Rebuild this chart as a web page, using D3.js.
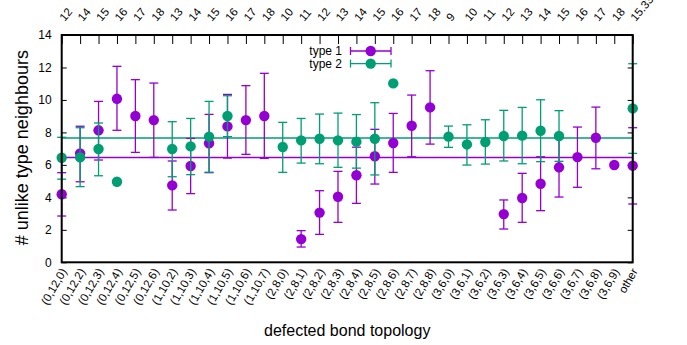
<!DOCTYPE html>
<html>
<head>
<meta charset="utf-8">
<script src="https://cdn.jsdelivr.net/npm/d3@7"></script>
<style>
  html, body { margin: 0; padding: 0; background: #fff; }
  svg { display: block; font-family: "Liberation Sans", Arial, Helvetica, sans-serif; }
</style>
</head>
<body>
<svg id="chart" width="687" height="345"></svg>
<script>
// Bond-topology categories (bottom axis) and their coordination sums (top axis)
const categories = ["(0,12,0)","(0,12,2)","(0,12,3)","(0,12,4)","(0,12,5)","(0,12,6)",
  "(1,10,2)","(1,10,3)","(1,10,4)","(1,10,5)","(1,10,6)","(1,10,7)",
  "(2,8,0)","(2,8,1)","(2,8,2)","(2,8,3)","(2,8,4)","(2,8,5)","(2,8,6)","(2,8,7)","(2,8,8)",
  "(3,6,0)","(3,6,1)","(3,6,2)","(3,6,3)","(3,6,4)","(3,6,5)","(3,6,6)","(3,6,7)","(3,6,8)","(3,6,9)","other"];
const topLabels = ["12","14","15","16","17","18","13","14","15","16","17","18",
  "10","11","12","13","14","15","16","17","18",
  "9","10","11","12","13","14","15","16","17","18","15.33"];
const yTicks = [0, 2, 4, 6, 8, 10, 12, 14];

// type 1: mean, lower and upper error bounds (null = no data / no bar)
const type1Mean = [4.19,6.71,8.13,10.07,9.01,8.76, 4.74,5.93,7.33,8.37,8.76,9.01,
  null,1.43,3.06,4.04,5.36,6.53,7.35,8.41,9.54, null,null,null,2.97,3.96,4.84,5.85,6.48,7.67,5.99,5.95];
const type1Low  = [2.85,4.96,6.30,8.13,6.77,6.46, 3.22,4.23,5.52,6.42,6.65,6.40,
  null,0.94,1.72,2.46,3.63,4.82,5.54,6.50,7.28, null,null,null,2.05,2.46,3.18,4.02,4.62,5.76,null,3.59];
const type1High = [5.52,8.38,9.91,12.07,11.25,11.04, 6.24,7.63,9.11,10.34,10.88,11.64,
  null,1.95,4.41,5.60,7.09,8.19,9.17,10.30,11.80, null,null,null,3.84,5.48,6.50,7.68,8.33,9.56,null,8.29];

// type 2: mean, lower and upper error bounds
const type2Mean = [6.44,6.46,6.98,4.96,null,null, 6.98,7.14,7.74,9.01,null,null,
  7.10,7.51,7.61,7.51,7.43,7.61,11.02,null,null, 7.74,7.26,7.41,7.78,7.80,8.10,7.78,null,null,null,9.48];
const type2Low  = [5.12,4.66,5.33,null,null,null, 5.27,5.40,5.55,7.74,null,null,
  5.54,6.11,6.07,5.85,5.80,5.38,null,null,null, 7.08,5.99,6.05,6.24,6.07,6.20,6.22,null,null,null,6.71];
const type2High = [7.70,8.29,8.58,null,null,null, 8.66,8.86,9.91,10.26,null,null,
  8.62,8.86,9.13,9.19,9.10,9.83,null,null,null, 8.39,8.47,8.78,9.36,9.54,10.01,9.34,null,null,null,12.23];

// overall averages drawn as horizontal reference lines
const type1Average = 6.46;
const type2Average = 7.65;

const seriesNames = ["type 1", "type 2"];
const colors = ["#9400d3", "#009e73"];

(function draw() {
  const svg = d3.select("#chart");
  const plotLeft = 61.7, plotRight = 632.7, plotTop = 35, plotBottom = 262.3;

  const x = d3.scalePoint().domain(categories).range([plotLeft, plotRight]);
  const y = d3.scaleLinear().domain([0, 14]).range([plotBottom, plotTop]);

  // y axis labels and inward ticks on both sides
  svg.append("g").attr("transform", `translate(${plotLeft},0)`)
    .call(d3.axisLeft(y).tickValues(yTicks).tickSize(0).tickPadding(10))
    .call(g => g.select(".domain").remove())
    .call(g => g.selectAll("text").attr("font-size", 12).attr("fill", "#000")
        .attr("font-family", "Liberation Sans, Arial, sans-serif"));
  svg.append("g").attr("transform", `translate(${plotLeft},0)`)
    .call(d3.axisRight(y).tickValues(yTicks).tickSize(5).tickFormat(""))
    .call(g => g.select(".domain").remove())
    .call(g => g.selectAll("line").attr("stroke", "#000").attr("stroke-width", 1));
  svg.append("g").attr("transform", `translate(${plotRight},0)`)
    .call(d3.axisLeft(y).tickValues(yTicks).tickSize(5).tickFormat(""))
    .call(g => g.select(".domain").remove())
    .call(g => g.selectAll("line").attr("stroke", "#000").attr("stroke-width", 1));

  // top axis: inward ticks and rotated sum labels
  svg.append("g").attr("transform", `translate(0,${plotTop})`)
    .call(d3.axisBottom(x).tickSize(9).tickFormat(""))
    .call(g => g.select(".domain").remove())
    .call(g => g.selectAll("line").attr("stroke", "#000").attr("stroke-width", 1));
  svg.append("g").selectAll("text").data(categories).join("text")
    .attr("transform", d => `translate(${x(d) + 3},22) rotate(-50)`)
    .attr("font-size", 11.5)
    .attr("text-anchor", "start")
    .text((d, i) => topLabels[i]);

  // bottom axis: rotated category labels
  svg.append("g").attr("transform", `translate(0,${plotBottom})`)
    .call(d3.axisBottom(x).tickSize(0).tickPadding(0))
    .call(g => g.select(".domain").remove())
    .call(g => g.selectAll("text")
        .attr("font-size", 11.5)
        .attr("fill", "#000")
        .attr("font-family", "Liberation Sans, Arial, sans-serif")
        .attr("text-anchor", "end")
        .attr("dy", null)
        .attr("y", 0)
        .attr("transform", "translate(5,9) rotate(-60)"));

  // average lines
  [type1Average, type2Average].forEach((v, i) => {
    svg.append("line")
      .attr("x1", plotLeft).attr("x2", plotRight)
      .attr("y1", y(v)).attr("y2", y(v))
      .attr("stroke", colors[i]).attr("stroke-width", 1.5);
  });

  // error bars and points
  const capHalf = 4.5, radius = 5.2;
  const series = [
    { mean: type1Mean, low: type1Low, high: type1High },
    { mean: type2Mean, low: type2Low, high: type2High }
  ];
  series.forEach((s, si) => {
    const g = svg.append("g").attr("stroke", colors[si]).attr("fill", colors[si]);
    const rows = categories.map((c, i) => ({ c, m: s.mean[i], lo: s.low[i], hi: s.high[i] }))
      .filter(r => r.m !== null);
    const bars = rows.filter(r => r.lo !== null);
    g.selectAll("line.v").data(bars).join("line").attr("class", "v")
      .attr("x1", r => x(r.c)).attr("x2", r => x(r.c))
      .attr("y1", r => y(r.lo)).attr("y2", r => y(r.hi)).attr("stroke-width", 1.3);
    g.selectAll("line.lo").data(bars).join("line").attr("class", "lo")
      .attr("x1", r => x(r.c) - capHalf).attr("x2", r => x(r.c) + capHalf)
      .attr("y1", r => y(r.lo)).attr("y2", r => y(r.lo)).attr("stroke-width", 1.3);
    g.selectAll("line.hi").data(bars).join("line").attr("class", "hi")
      .attr("x1", r => x(r.c) - capHalf).attr("x2", r => x(r.c) + capHalf)
      .attr("y1", r => y(r.hi)).attr("y2", r => y(r.hi)).attr("stroke-width", 1.3);
    g.selectAll("circle").data(rows).join("circle")
      .attr("cx", r => x(r.c)).attr("cy", r => y(r.m)).attr("r", radius).attr("stroke", "none");
  });

  // frame
  svg.append("rect")
    .attr("x", plotLeft).attr("y", plotTop)
    .attr("width", plotRight - plotLeft).attr("height", plotBottom - plotTop)
    .attr("fill", "none").attr("stroke", "#000").attr("stroke-width", 2);

  // legend
  const legend = svg.append("g");
  seriesNames.forEach((name, i) => {
    const ly = 51 + i * 12.6;
    legend.append("text").attr("x", 342).attr("y", ly).attr("dy", "0.35em")
      .attr("text-anchor", "end").attr("font-size", 12).text(name);
    const lg = legend.append("g").attr("stroke", colors[i]).attr("stroke-width", 1.3);
    lg.append("line").attr("x1", 350.5).attr("x2", 391).attr("y1", ly).attr("y2", ly);
    lg.append("line").attr("x1", 350.5).attr("x2", 350.5).attr("y1", ly - 4).attr("y2", ly + 4);
    lg.append("line").attr("x1", 391).attr("x2", 391).attr("y1", ly - 4).attr("y2", ly + 4);
    legend.append("circle").attr("cx", 370.7).attr("cy", ly).attr("r", radius).attr("fill", colors[i]);
  });

  // axis titles
  svg.append("text")
    .attr("x", (plotLeft + plotRight) / 2).attr("y", 336)
    .attr("text-anchor", "middle").attr("font-size", 16)
    .text("defected bond topology");
  svg.append("text")
    .attr("transform", `translate(28,${(plotTop + plotBottom) / 2 - 1}) rotate(-90)`)
    .attr("text-anchor", "middle").attr("font-size", 18)
    .text("# unlike type neighbours");
})();
</script>
</body>
</html>
